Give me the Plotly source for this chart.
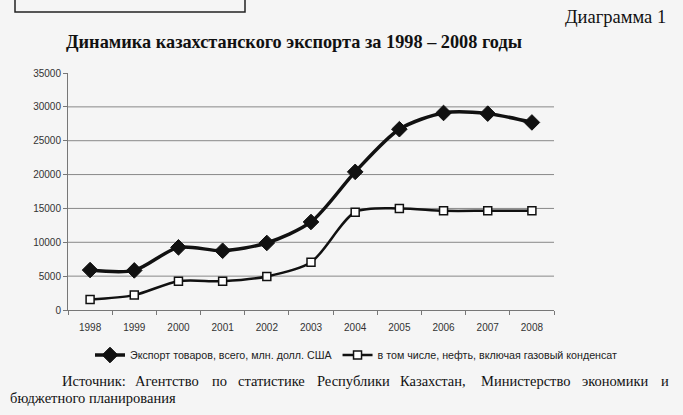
import plotly.graph_objects as go

years = ["1998", "1999", "2000", "2001", "2002", "2003", "2004", "2005", "2006", "2007", "2008"]
export_total = [5900, 5850, 9250, 8750, 9900, 13000, 20400, 26700, 29100, 29000, 27700]
export_oil = [1550, 2200, 4250, 4250, 4950, 7050, 14450, 15000, 14650, 14650, 14650]
y_ticks = [0, 5000, 10000, 15000, 20000, 25000, 30000, 35000]

name_total = "Экспорт товаров, всего, млн. долл. США"
name_oil = "в том числе, нефть, включая газовый конденсат"
title_text = "Динамика казахстанского экспорта за 1998 – 2008 годы"
diagram_label = "Диаграмма 1"
source_line1 = ["Источник:", "Агентство", "по", "статистике", "Республики",
                "Казахстан,", "Министерство", "экономики", "и"]
source_line1_x = [60, 133, 210, 236, 315, 398, 479, 580, 659]
source_line2 = "бюджетного планирования"

W, H = 683, 415
L, R, T, B = 68, 554, 73, 310

BG = "#f5f5f5"
fig = go.Figure()
fig.add_trace(go.Scatter(
    x=years, y=export_total, name=name_total, mode="lines+markers",
    line=dict(color="#111111", width=3.5, shape="spline", smoothing=0.8),
    marker=dict(symbol="diamond", size=12, color="#111111", line=dict(color="#111111", width=1)),
))
fig.add_trace(go.Scatter(
    x=years, y=export_oil, name=name_oil, mode="lines+markers",
    line=dict(color="#111111", width=2.5, shape="spline", smoothing=0.8),
    marker=dict(symbol="square", size=8, color="white", line=dict(color="#111111", width=1.5)),
))

def px_x(px):
    return (px - L) / (R - L)

def px_y(py):
    return (B - py) / (B - T)

serif = "Liberation Serif"
annotations = [
    dict(text="<b>" + title_text + "</b>", x=px_x(64), y=px_y(42), xanchor="left", yanchor="middle",
         font=dict(family=serif, size=18.3, color="#111111")),
    dict(text=diagram_label, x=px_x(668), y=px_y(17), xanchor="right", yanchor="middle",
         font=dict(family=serif, size=18.5, color="#111111")),
    dict(text=source_line2, x=px_x(8), y=px_y(398), xanchor="left", yanchor="middle",
         font=dict(family=serif, size=14.5, color="#111111")),
]
for word, wx in zip(source_line1, source_line1_x):
    annotations.append(dict(text=word, x=px_x(wx), y=px_y(381), xanchor="left", yanchor="middle",
                            font=dict(family=serif, size=14.5, color="#111111")))
for a in annotations:
    a.update(xref="paper", yref="paper", showarrow=False)

shapes = [dict(type="rect", xref="paper", yref="paper", x0=px_x(15), x1=px_x(245), y0=px_y(12), y1=px_y(-5),
               line=dict(color="#222222", width=1.5), fillcolor="rgba(0,0,0,0)")]
for v in y_ticks[1:-1]:
    shapes.append(dict(type="line", xref="paper", yref="y", x0=0, x1=1, y0=v, y1=v,
                       line=dict(color="#888888", width=1), layer="below"))

fig.update_layout(
    width=W, height=H,
    margin=dict(l=L, r=W - R, t=T, b=H - B, pad=0, autoexpand=False),
    paper_bgcolor=BG, plot_bgcolor=BG,
    showlegend=True,
    legend=dict(orientation="h", xref="paper", yref="paper", x=px_x(623), y=px_y(355),
                xanchor="right", yanchor="middle",
                font=dict(family="Liberation Sans", size=10.7, color="#222222"),
                bgcolor="rgba(0,0,0,0)", itemwidth=30, tracegroupgap=0),
    annotations=annotations,
    shapes=shapes,
    xaxis=dict(type="category", tickson="boundaries", ticks="outside", ticklen=4, tickcolor="#777777",
               showline=True, linecolor="#777777", linewidth=1, showgrid=False, ticklabelstandoff=8,
               automargin=False,
               tickfont=dict(family="Liberation Sans", size=10, color="#333333"), range=[-0.5, 10.5]),
    yaxis=dict(range=[0, 35000], tickvals=y_ticks, ticktext=[str(v) for v in y_ticks],
               ticks="outside", ticklen=4, tickcolor="#777777", automargin=False,
               showline=True, linecolor="#777777", linewidth=1, showgrid=False, zeroline=False,
               tickfont=dict(family="Liberation Sans", size=10, color="#333333")),
)
fig.write_html("out.html")
